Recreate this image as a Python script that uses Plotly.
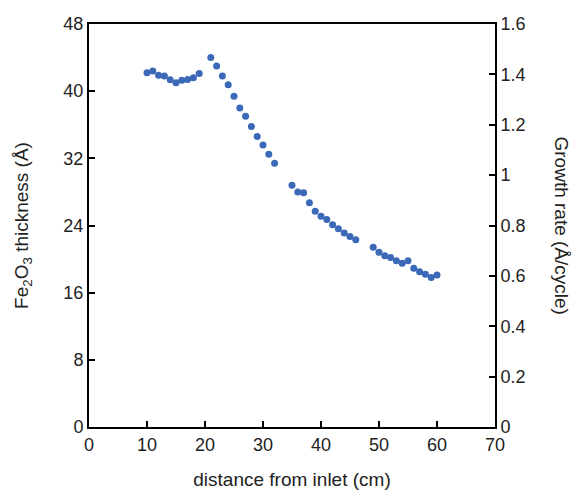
import plotly.graph_objects as go

distance_cm = [10, 11, 12, 13, 14, 15, 16, 17, 18, 19,
               21, 22, 23, 24, 25, 26, 27, 28, 29, 30, 31, 32,
               35, 36, 37, 38, 39, 40, 41, 42, 43, 44, 45, 46,
               49, 50, 51, 52, 53, 54, 55, 56, 57, 58, 59, 60]
thickness_A = [42.2, 42.4, 41.9, 41.8, 41.35, 41.0, 41.3, 41.4, 41.6, 42.1,
               44.0, 43.0, 41.8, 40.75, 39.4, 38.0, 37.0, 35.8, 34.6, 33.6, 32.5, 31.4,
               28.8, 28.0, 27.9, 26.7, 25.7, 25.1, 24.7, 24.1, 23.6, 23.1, 22.7, 22.3,
               21.4, 20.8, 20.4, 20.2, 19.8, 19.5, 19.8, 18.9, 18.5, 18.2, 17.8, 18.1]

x_ticks = [0, 10, 20, 30, 40, 50, 60, 70]
y_ticks = [0, 8, 16, 24, 32, 40, 48]
y2_ticks = [0, 0.2, 0.4, 0.6, 0.8, 1.0, 1.2, 1.4, 1.6]
y2_labels = ["0", "0.2", "0.4", "0.6", "0.8", "1", "1.2", "1.4", "1.6"]

font_family = "Liberation Sans, Arial, sans-serif"
text_color = "#222"

fig = go.Figure()
fig.add_trace(go.Scatter(
    x=distance_cm, y=thickness_A, mode="markers",
    marker=dict(color="#3b69b8", size=7),
    showlegend=False, hoverinfo="x+y"))
fig.add_trace(go.Scatter(
    x=[None], y=[None], yaxis="y2", mode="markers", showlegend=False))

axis_common = dict(
    showline=True, linecolor="black", linewidth=2,
    ticks="inside", ticklen=6, tickwidth=2, tickcolor="black",
    showgrid=False, zeroline=False, automargin=False,
    tickfont=dict(size=18, color=text_color, family=font_family),
)

fig.update_layout(
    width=572, height=490,
    margin=dict(l=89, r=77, t=24, b=63),
    paper_bgcolor="white", plot_bgcolor="white",
    font=dict(family=font_family, color=text_color),
    xaxis=dict(range=[0, 70], tickvals=x_ticks, mirror=True,
               title=dict(text="distance from inlet (cm)", font=dict(size=19), standoff=22),
               **axis_common),
    yaxis=dict(range=[0, 48], tickvals=y_ticks,
               title=dict(text="Fe<sub>2</sub>O<sub>3</sub> thickness (Å)", font=dict(size=19), standoff=30),
               **axis_common),
    yaxis2=dict(range=[0, 1.6], tickvals=y2_ticks, ticktext=y2_labels,
                overlaying="y", side="right", anchor="x",
                **axis_common),
    annotations=[dict(
        text="Growth rate (Å/cycle)", textangle=90,
        xref="paper", yref="paper", x=1.0, y=0.5,
        xanchor="center", yanchor="middle", xshift=66,
        showarrow=False, font=dict(size=19, color=text_color, family=font_family))],
)

fig.write_html("out.html", config={"displayModeBar": False},
               post_script="document.body.style.margin='0';document.body.style.overflow='hidden';")
